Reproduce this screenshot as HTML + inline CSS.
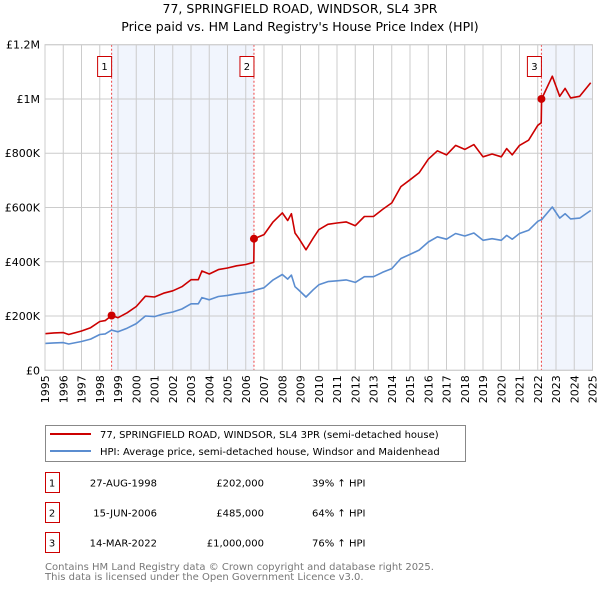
<!DOCTYPE html>
<html><head><meta charset="utf-8">
<style>
body{margin:0;background:#fff;font-family:"Liberation Sans","DejaVu Sans",sans-serif;}
svg text{font-family:"DejaVu Sans","Liberation Sans",sans-serif;}
</style></head>
<body>
<svg width="600" height="590" viewBox="0 0 600 590" xmlns="http://www.w3.org/2000/svg">
<text x="300" y="13" text-anchor="middle" font-size="12.5" fill="#000">77, SPRINGFIELD ROAD, WINDSOR, SL4 3PR</text>
<text x="300" y="31" text-anchor="middle" font-size="12.5" fill="#000">Price paid vs. HM Land Registry's House Price Index (HPI)</text>
<g id="plot"></g>
<g id="legend">
<rect x="45.5" y="425.5" width="420" height="36" fill="#fff" stroke="#888"/>
<line x1="50" y1="434" x2="91" y2="434" stroke="#cc0000" stroke-width="2"/>
<text x="100" y="438" font-size="10">77, SPRINGFIELD ROAD, WINDSOR, SL4 3PR (semi-detached house)</text>
<line x1="50" y1="451" x2="91" y2="451" stroke="#5b8dd0" stroke-width="2"/>
<text x="100" y="455" font-size="10">HPI: Average price, semi-detached house, Windsor and Maidenhead</text>
</g>
<g id="table" font-size="10"></g>
<text x="45" y="570" font-size="10" fill="#777">Contains HM Land Registry data © Crown copyright and database right 2025.</text>
<text x="45" y="580" font-size="10" fill="#777">This data is licensed under the Open Government Licence v3.0.</text>
</svg>
<script>
const times=[1995.0,1995.5,1996.0,1996.3,1997.0,1997.5,1998.0,1998.3,1998.65,1999.0,1999.5,2000.0,2000.5,2001.0,2001.5,2002.0,2002.5,2003.0,2003.4,2003.6,2004.0,2004.5,2005.0,2005.5,2006.0,2006.44,2006.46,2007.0,2007.5,2008.0,2008.3,2008.5,2008.7,2008.9,2009.3,2009.7,2010.0,2010.5,2011.0,2011.5,2012.0,2012.5,2013.0,2013.5,2014.0,2014.5,2015.0,2015.5,2016.0,2016.5,2017.0,2017.5,2018.0,2018.5,2019.0,2019.5,2020.0,2020.3,2020.6,2021.0,2021.5,2022.0,2022.19,2022.21,2022.8,2023.2,2023.5,2023.8,2024.3,2024.9];
const hpiValues=[99,101,102,97,106,115,132,134,148,142,155,172,200,198,208,215,226,245,245,268,260,272,276,282,286,292,295,304,333,353,336,351,308,296,270,297,315,327,330,333,324,345,345,361,375,412,427,443,473,492,483,504,495,506,479,485,479,497,483,504,516,549,555,555,602,561,577,558,561,589];
const propertyValues=[135,138,139,132,145,157,180,183,202,194,212,235,273,270,284,293,308,334,334,366,355,371,377,385,390,398,485,500,547,580,552,577,506,487,444,488,518,538,543,547,533,567,567,593,617,677,702,728,778,809,794,829,814,832,787,797,787,817,794,829,848,903,912,1000,1084,1010,1039,1004,1010,1060];
const yTicks=[0,200,400,600,800,1000,1200];
const yTickLabels=["£0","£200K","£400K","£600K","£800K","£1M","£1.2M"];
const xTickYears=[1995,1996,1997,1998,1999,2000,2001,2002,2003,2004,2005,2006,2007,2008,2009,2010,2011,2012,2013,2014,2015,2016,2017,2018,2019,2020,2021,2022,2023,2024,2025];
const saleTimes=[1998.65,2006.45,2022.2];
const saleValues=[202,485,1000];
const saleLabels=["1","2","3"];
const saleDates=["27-AUG-1998","15-JUN-2006","14-MAR-2022"];
const salePrices=["£202,000","£485,000","£1,000,000"];
const saleHpi=["39% ↑ HPI","64% ↑ HPI","76% ↑ HPI"];

const X0=45,X1=592.5,Y0=370.3,Y1=44.7;
const xs=t=>X0+(t-1995)/30*(X1-X0);
const ys=v=>Y0-v/1200*(Y0-Y1);
const NS="http://www.w3.org/2000/svg";
function mk(tag,attrs,parent){const e=document.createElementNS(NS,tag);for(const k in attrs)e.setAttribute(k,attrs[k]);parent.appendChild(e);return e;}
const plot=document.getElementById('plot');

// shaded ranges
let s1=mk('rect',{x:xs(saleTimes[0]),y:Y1,width:xs(saleTimes[1])-xs(saleTimes[0]),height:Y0-Y1,fill:'#eef3fc',opacity:0.8},plot);


let s2=mk('rect',{x:xs(saleTimes[2]),y:Y1,width:X1-xs(saleTimes[2]),height:Y0-Y1,fill:'#eef3fc',opacity:0.8},plot);



// grid
xTickYears.forEach(y=>{
  const g=mk('line',{x1:xs(y),x2:xs(y),y1:Y1,y2:Y0,stroke:'#cccccc','stroke-width':1},plot);
  
  
  const t=mk('text',{x:0,y:0,'font-size':11,'text-anchor':'end',transform:`translate(${xs(y)+4},${Y0+5}) rotate(-90)`},plot);
  t.textContent=y;
  
  
});
yTicks.forEach((v,i)=>{
  const g=mk('line',{x1:X0,x2:X1,y1:ys(v),y2:ys(v),stroke:'#cccccc','stroke-width':1},plot);
  
  
  const t=mk('text',{x:X0-5,y:ys(v)+4,'font-size':11,'text-anchor':'end'},plot);
  t.textContent=yTickLabels[i];
  
  
});

// sale lines
saleTimes.forEach((t,i)=>{
  const l=mk('line',{x1:xs(t),x2:xs(t),y1:Y1,y2:Y0,stroke:'#ee4444','stroke-width':1,'stroke-dasharray':'2,2'},plot);
  
  
});

function path(vals,color,name){
  const d=times.map((t,i)=>(i?'L':'M')+xs(t).toFixed(1)+','+ys(vals[i]).toFixed(1)).join('');
  const p=mk('path',{d,fill:'none',stroke:color,'stroke-width':1.6,'stroke-linejoin':'round'},plot);
  
  
}
path(hpiValues,'#5b8dd0','hpi-line');
path(propertyValues,'#cc0000','property-price-line');

saleTimes.forEach((t,i)=>{
  const c=mk('circle',{cx:xs(t),cy:ys(saleValues[i]),r:4,fill:'#cc0000'},plot);
  
  
  const r=mk('rect',{x:xs(t)-14,y:56.5,width:14,height:20,fill:'#fff',stroke:'#cc0000'},plot);
  
  
  const tx=mk('text',{x:xs(t)-7,y:70,'font-size':10,'text-anchor':'middle'},plot);
  tx.textContent=saleLabels[i];
  
  
});
mk('rect',{x:X0,y:Y1,width:X1-X0,height:Y0-Y1,fill:'none',stroke:'#ccc'},plot);

// table
const tb=document.getElementById('table');
saleLabels.forEach((lab,i)=>{
  const cy=483+i*30;
  const r=mk('rect',{x:45.5,y:cy-10.5,width:14,height:20,fill:'#fff',stroke:'#cc0000'},tb);
  
  
  const cells=[[52,'middle',lab],[157,'end',saleDates[i]],[264,'end',salePrices[i]],[312,'start',saleHpi[i]]];
  cells.forEach(c=>{
    const t=mk('text',{x:c[0],y:cy+3.5,'text-anchor':c[1]},tb);
    t.textContent=c[2];
    
    
  });
});
</script>
</body></html>
